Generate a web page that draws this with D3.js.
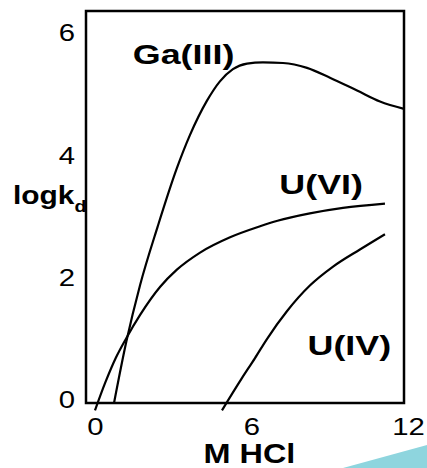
<!DOCTYPE html>
<html>
<head>
<meta charset="utf-8">
<script src="https://cdn.jsdelivr.net/npm/d3@7"></script>
<style>
  html, body { margin: 0; padding: 0; background: #fff; }
  svg { display: block; }
  text { font-family: "Liberation Sans", Arial, Helvetica, sans-serif; fill: #000; }
</style>
</head>
<body>
<svg id="chart" width="427" height="468"></svg>
<script>
// Distribution coefficients (log kd) versus HCl molarity
const gaX   = [0.73, 1.2, 1.73, 2.4, 3.14, 3.64, 4.29, 4.79, 5.29, 5.83, 6.44, 7.21, 8.13, 9.01, 10.05, 10.93, 11.85];
const gaY   = [-0.08, 0.92, 1.85, 2.8, 3.76, 4.3, 4.86, 5.18, 5.38, 5.47, 5.49, 5.48, 5.4, 5.24, 5.03, 4.85, 4.73];

const u6X   = [0, 0.4, 0.8, 1.2, 1.73, 2.5, 3.14, 4.03, 5.18, 6.33, 7.0, 8.24, 9.51, 11.12];
const u6Y   = [-0.2, 0.26, 0.66, 0.98, 1.36, 1.82, 2.1, 2.38, 2.63, 2.81, 2.9, 3.02, 3.11, 3.18];

const u4X   = [4.87, 5.64, 6.13, 6.6, 7.36, 8.24, 9.13, 10.16, 11.12];
const u4Y   = [-0.2, 0.33, 0.65, 0.97, 1.42, 1.84, 2.15, 2.43, 2.68];

const seriesNames = ["Ga(III)", "U(VI)", "U(IV)"];
const xTicks = [0, 6, 12];
const yTicks = [0, 2, 4, 6];

const svg = d3.select("#chart");
const STRETCH = 1.22; // wide lettering

const x = d3.scaleLinear().domain([-0.345, 11.85]).range([86, 404]);
const y = d3.scaleLinear().domain([-0.08, 6.33]).range([403, 11]);

// widen a text element horizontally
function widen(sel, f) {
  sel.each(function () {
    const len = this.getComputedTextLength();
    d3.select(this).attr("textLength", len * f).attr("lengthAdjust", "spacingAndGlyphs");
  });
}

// plot frame
svg.append("rect")
  .attr("x", x.range()[0]).attr("y", y.range()[1])
  .attr("width", x.range()[1] - x.range()[0])
  .attr("height", y.range()[0] - y.range()[1])
  .attr("fill", "none").attr("stroke", "#000").attr("stroke-width", 2.5);

// axes (labels only)
const xAxis = svg.append("g")
  .attr("transform", `translate(0,${y.range()[0]})`)
  .call(d3.axisBottom(x).tickValues(xTicks).tickSize(0).tickPadding(15).tickFormat(d3.format("d")));
xAxis.select(".domain").remove();
xAxis.selectAll("text").attr("font-size", 24).attr("fill", "#000")
  .style("font-family", "'Liberation Sans', Arial, sans-serif");

const yAxis = svg.append("g")
  .attr("transform", `translate(${x.range()[0]},0)`)
  .call(d3.axisLeft(y).tickValues(yTicks).tickSize(0).tickPadding(11).tickFormat(d3.format("d")));
yAxis.select(".domain").remove();
yAxis.selectAll("text").attr("font-size", 24).attr("fill", "#000").attr("dy", "0.4em")
  .style("font-family", "'Liberation Sans', Arial, sans-serif");

widen(xAxis.selectAll("text"), STRETCH);
widen(yAxis.selectAll("text"), STRETCH);

// curves
const line = d3.line()
  .x(d => x(d[0])).y(d => y(d[1]))
  .curve(d3.curveMonotoneX);

const series = [
  d3.zip(gaX, gaY),
  d3.zip(u6X, u6Y),
  d3.zip(u4X, u4Y)
];

svg.append("g").selectAll("path")
  .data(series)
  .join("path")
  .attr("d", line)
  .attr("fill", "none")
  .attr("stroke", "#000")
  .attr("stroke-width", 2.2)
  .attr("stroke-linecap", "butt");

// curve labels
const labelPos = [
  [1.45, 5.47],
  [7.07, 3.34],
  [8.15, 0.7]
];
const labels = svg.append("g").selectAll("text")
  .data(seriesNames)
  .join("text")
  .attr("x", (d, i) => x(labelPos[i][0]))
  .attr("y", (d, i) => y(labelPos[i][1]))
  .attr("font-size", 28)
  .attr("font-weight", "bold")
  .text(d => d);
widen(labels, 1.28);

// axis titles
const xTitle = svg.append("text")
  .attr("x", (x(0) + x(12)) / 2 - 2)
  .attr("y", 463)
  .attr("text-anchor", "middle")
  .attr("font-size", 27)
  .attr("font-weight", "bold")
  .text("M HCl");
widen(xTitle, 1.2);

const yTitle = svg.append("text")
  .attr("x", 13)
  .attr("y", 204)
  .attr("font-size", 26)
  .attr("font-weight", "bold");
yTitle.append("tspan").text("logk");
yTitle.append("tspan").attr("dy", 8).attr("font-size", 17).text("d");
widen(yTitle, 1.15);

// corner accent
svg.append("path")
  .attr("d", "M343,468 L427,445 L427,468 Z")
  .attr("fill", "#8ed5de");
</script>
</body>
</html>
